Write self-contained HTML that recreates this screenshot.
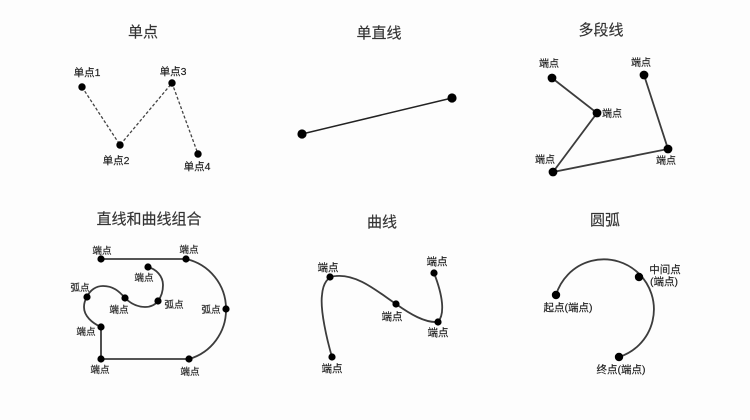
<!DOCTYPE html>
<html><head><meta charset="utf-8">
<style>
html,body{margin:0;padding:0;background:#fdfdfd;width:750px;height:420px;overflow:hidden}
svg{display:block}
text{font-family:"Liberation Sans","Noto Sans CJK SC",sans-serif;fill:#1c1c1c;text-anchor:middle;stroke:#1c1c1c;stroke-width:.15}
.t{font-size:15px;fill:#333;stroke:#333}
.l{font-size:10.5px}
.m{font-size:10px}
.c{font-size:9.6px}
.s{fill:none;stroke:#3c3c3c;stroke-width:1.8}
</style></head><body>
<svg width="750" height="420" viewBox="0 0 750 420" xmlns="http://www.w3.org/2000/svg">
<text class="t" x="143" y="37">单点</text>
<text class="t" x="379" y="38">单直线</text>
<text class="t" x="601" y="35">多段线</text>
<text class="t" x="149" y="224">直线和曲线组合</text>
<text class="t" x="382" y="227">曲线</text>
<text class="t" x="605" y="225">圆弧</text>

<path d="M82 87L120 145L172 83L198 154" fill="none" stroke="#444" stroke-width="1.3" stroke-dasharray="3 2"/>
<g><circle cx="82" cy="87" r="3.7"/><circle cx="120" cy="145" r="3.7"/><circle cx="172" cy="83" r="3.7"/><circle cx="198" cy="154" r="3.7"/></g>
<text class="l" x="87" y="76">单点1</text>
<text class="l" x="173" y="75">单点3</text>
<text class="l" x="116" y="164">单点2</text>
<text class="l" x="197" y="170">单点4</text>

<path d="M302 134L452 98" stroke="#222" stroke-width="1.5"/>
<circle cx="302" cy="134" r="4.6"/><circle cx="452" cy="98" r="4.6"/>

<path class="s" d="M552 78L597 113L553 172L668 149L644 75"/>
<circle cx="552" cy="78" r="4.4"/><circle cx="597" cy="113" r="4.4"/><circle cx="553" cy="172" r="4.4"/><circle cx="668" cy="149" r="4.4"/><circle cx="644" cy="75" r="4.4"/>
<text class="m" x="549" y="67">端点</text>
<text class="m" x="612" y="117">端点</text>
<text class="m" x="545" y="163">端点</text>
<text class="m" x="666" y="164">端点</text>
<text class="m" x="641" y="66">端点</text>

<path class="s" d="M101 259L186 259A51 51 0 0 1 226 309A51 51 0 0 1 189 359L101 359L101 327C92 323 84 316 84 307C84 303 85 300 87 297C90 290 96 286 103 286C113 286 119 291 125 298C131 304 138 307 145 307C150 307 155 305 158 301C161 297 163 291 163 285C163 276 156 269 148 267"/>
<g><circle cx="101" cy="259" r="3.6"/><circle cx="186" cy="259" r="3.6"/><circle cx="226" cy="309" r="3.6"/><circle cx="189" cy="359" r="3.6"/><circle cx="101" cy="359" r="3.6"/><circle cx="101" cy="327" r="3.6"/><circle cx="87" cy="297" r="3.6"/><circle cx="125" cy="298" r="3.6"/><circle cx="158" cy="301" r="3.6"/><circle cx="148" cy="267" r="3.6"/></g>
<text class="c" x="102" y="254">端点</text>
<text class="c" x="189" y="253">端点</text>
<text class="c" x="144" y="281">端点</text>
<text class="c" x="80" y="291">弧点</text>
<text class="c" x="119" y="313">端点</text>
<text class="c" x="174" y="308">弧点</text>
<text class="c" x="211" y="313">弧点</text>
<text class="c" x="86" y="335">端点</text>
<text class="c" x="100" y="373">端点</text>
<text class="c" x="190" y="375">端点</text>

<path class="s" d="M332 357C327 340 320 310 322 295C323 283 328 276 336 276C358 274 378 292 396 304C410 314 425 323 438 322C445 314 443 296 434 273"/>
<circle cx="330" cy="277" r="3.6"/><circle cx="396" cy="304" r="3.6"/><circle cx="438" cy="322" r="3.6"/><circle cx="434" cy="273" r="3.6"/><circle cx="332" cy="357" r="3.6"/>
<text class="l" x="328" y="271">端点</text>
<text class="l" x="392" y="320">端点</text>
<text class="l" x="438" y="336">端点</text>
<text class="l" x="437" y="265">端点</text>
<text class="l" x="332" y="372">端点</text>

<path class="s" d="M556 295A50 50 0 1 1 619 357"/>
<circle cx="556" cy="295" r="4.2"/><circle cx="639" cy="277" r="4.2"/><circle cx="619" cy="357" r="4.2"/>
<text class="l" x="568" y="311">起点(端点)</text>
<text class="l" x="665" y="273">中间点</text>
<text class="l" x="664" y="285">(端点)</text>
<text class="l" x="621" y="373">终点(端点)</text>
</svg>
</body></html>
